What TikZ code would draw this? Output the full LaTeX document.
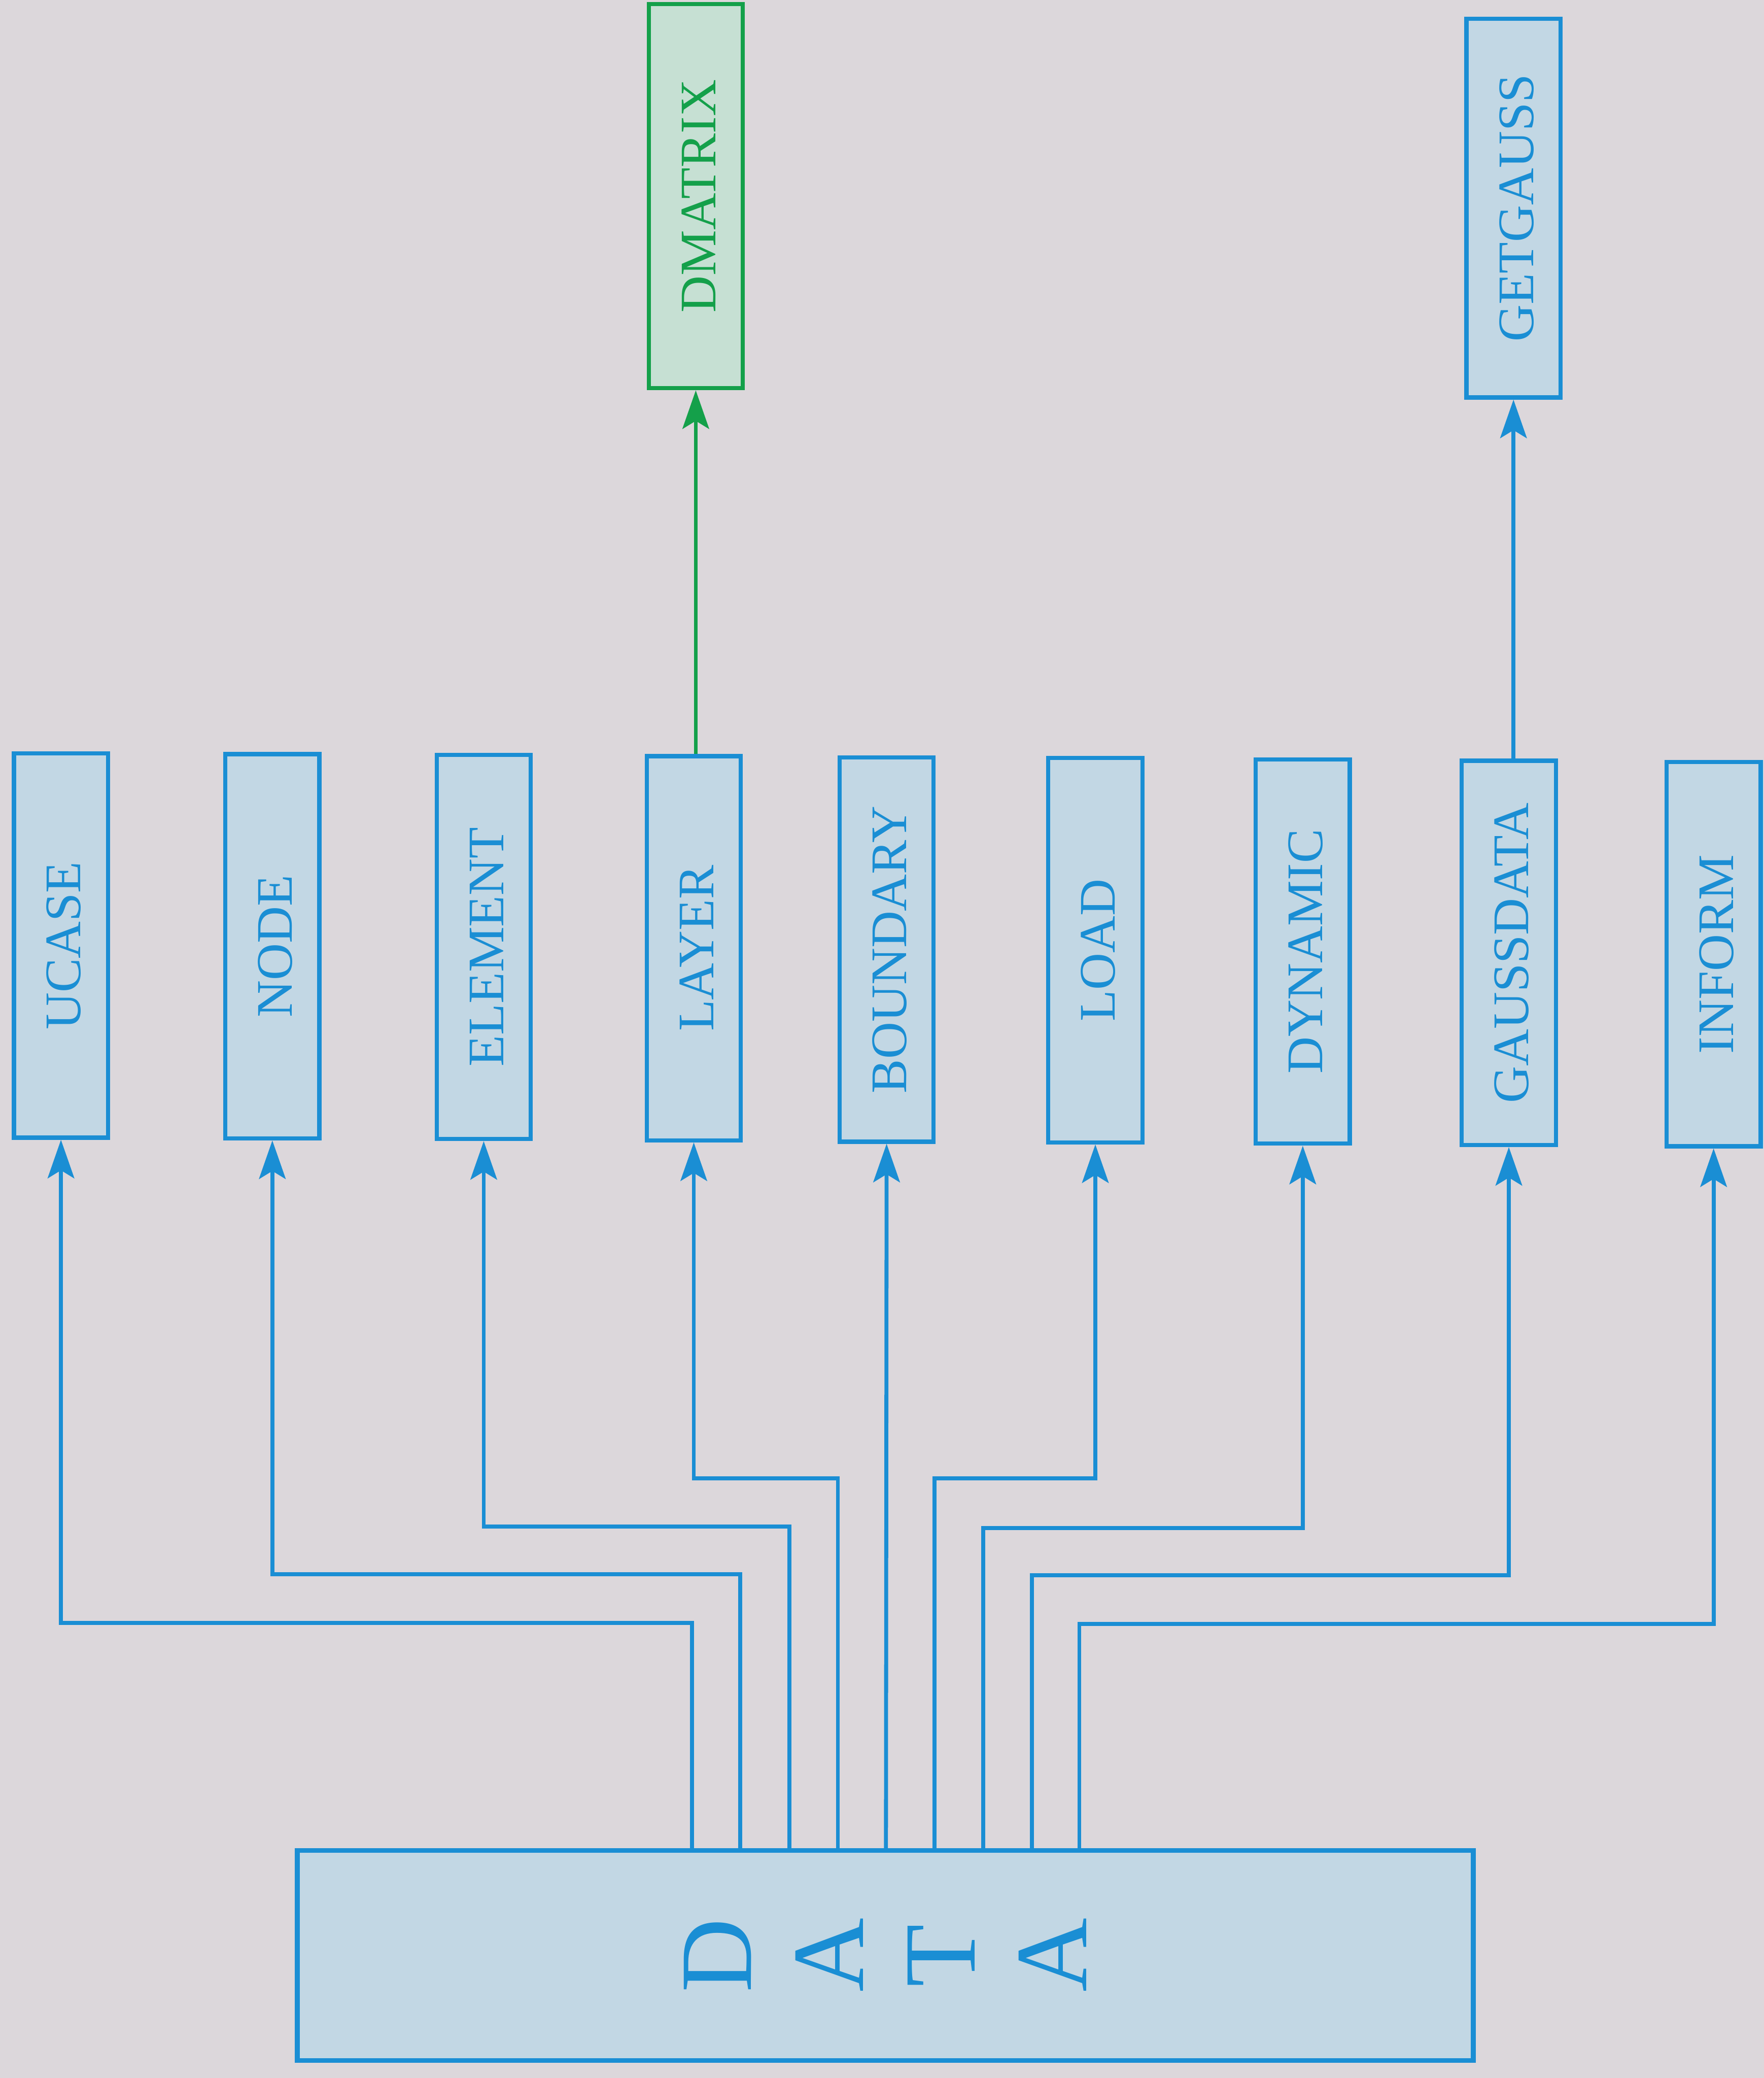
\documentclass[tikz,border=0pt]{standalone}
\usepackage{fontspec}
\setmainfont{Liberation Serif}
\usetikzlibrary{arrows.meta}
\definecolor{bgc}{HTML}{DCD7DB}
\definecolor{blueline}{HTML}{1A8ED4}
\definecolor{boxblue}{HTML}{C2D7E4}
\definecolor{greenline}{HTML}{14A04A}
\definecolor{boxgreen}{HTML}{C6E0D3}
\newcommand{\vtext}[1]{\hspace*{0.09cm}\rotatebox{90}{#1}}
\newcommand{\vlet}[1]{\rotatebox[origin=c]{90}{#1}}
\begin{document}
\begin{tikzpicture}[x=0.02cm,y=-0.02cm,
  sbox/.style={draw=blueline, fill=boxblue, line width=1.8pt, minimum width=1.42cm,
    minimum height=5.8cm, inner sep=0pt, text=blueline, font=\fontsize{22}{26}\selectfont},
  gbox/.style={sbox, draw=greenline, fill=boxgreen, text=greenline},
  bigbox/.style={draw=blueline, fill=boxblue, line width=2pt, minimum width=17.75cm,
    minimum height=3.17cm, inner sep=0pt, text=blueline, font=\fontsize{44}{50}\selectfont},
  conn/.style={draw=blueline, line width=1.7pt,
    -{Stealth[length=0.58cm,width=0.4cm,inset=0.12cm]}},
  gconn/.style={conn, draw=greenline}]
\fill[bgc] (0,0) rectangle (1331,1568);
\useasboundingbox (0,0) rectangle (1331,1568);

% top row
\node[gbox] (DMATRIX) at (525,148) {\vtext{DMATRIX}};
\node[sbox, minimum height=5.72cm] (GETGAUSS) at (1142,157) {\vtext{GETGAUSS}};

% middle row
\node[sbox] (UCASE)     at (46,713.5)   {\vtext{UCASE}};
\node[sbox] (NODE)      at (205.5,714)  {\vtext{NODE}};
\node[sbox] (ELEMENT)   at (365,714.5)  {\vtext{ELEMENT}};
\node[sbox] (LAYER)     at (523.5,715.5){\vtext{LAYER}};
\node[sbox] (BOUNDARY)  at (669,716.5)  {\vtext{BOUNDARY}};
\node[sbox] (LOAD)      at (826.5,717)  {\vtext{LOAD}};
\node[sbox] (DYNAMIC)   at (983,718)    {\vtext{DYNAMIC}};
\node[sbox] (GAUSSDATA) at (1138.5,719) {\vtext{GAUSSDATA}};
\node[sbox] (INFORM)    at (1293,720)   {\vtext{INFORM}};

% data box
\node[bigbox] (DATA) at (668,1475.5)
  {\vlet{D}\hspace{19pt}\vlet{A}\hspace{19pt}\vlet{T}\hspace{19pt}\vlet{A}};

% bend points
\coordinate (b1) at (522,1224.5);
\coordinate (b2) at (558.6,1188);
\coordinate (b3) at (595.6,1152);
\coordinate (b4) at (632.2,1115.5);
\coordinate (b5) at (668.5,1115.5);
\coordinate (b6) at (705.1,1115.5);
\coordinate (b7) at (741.9,1153);
\coordinate (b8) at (778.5,1188.5);
\coordinate (b9) at (814.4,1225.5);

\draw[conn] (DATA.north -| b1) -- (b1) -| (UCASE.south);
\draw[conn] (DATA.north -| b2) -- (b2) -| (NODE.south);
\draw[conn] (DATA.north -| b3) -- (b3) -| (ELEMENT.south);
\draw[conn] (DATA.north -| b4) -- (b4) -| (LAYER.south);
\draw[conn] (DATA.north -| b5) -- (BOUNDARY.south);
\draw[conn] (DATA.north -| b6) -- (b6) -| (LOAD.south);
\draw[conn] (DATA.north -| b7) -- (b7) -| (DYNAMIC.south);
\draw[conn] (DATA.north -| b8) -- (b8) -| (GAUSSDATA.south);
\draw[conn] (DATA.north -| b9) -- (b9) -| (INFORM.south);

\draw[gconn] (LAYER.north -| DMATRIX.south) -- (DMATRIX.south);
\draw[conn] (GAUSSDATA.north -| GETGAUSS.south) -- (GETGAUSS.south);
\end{tikzpicture}
\end{document}
